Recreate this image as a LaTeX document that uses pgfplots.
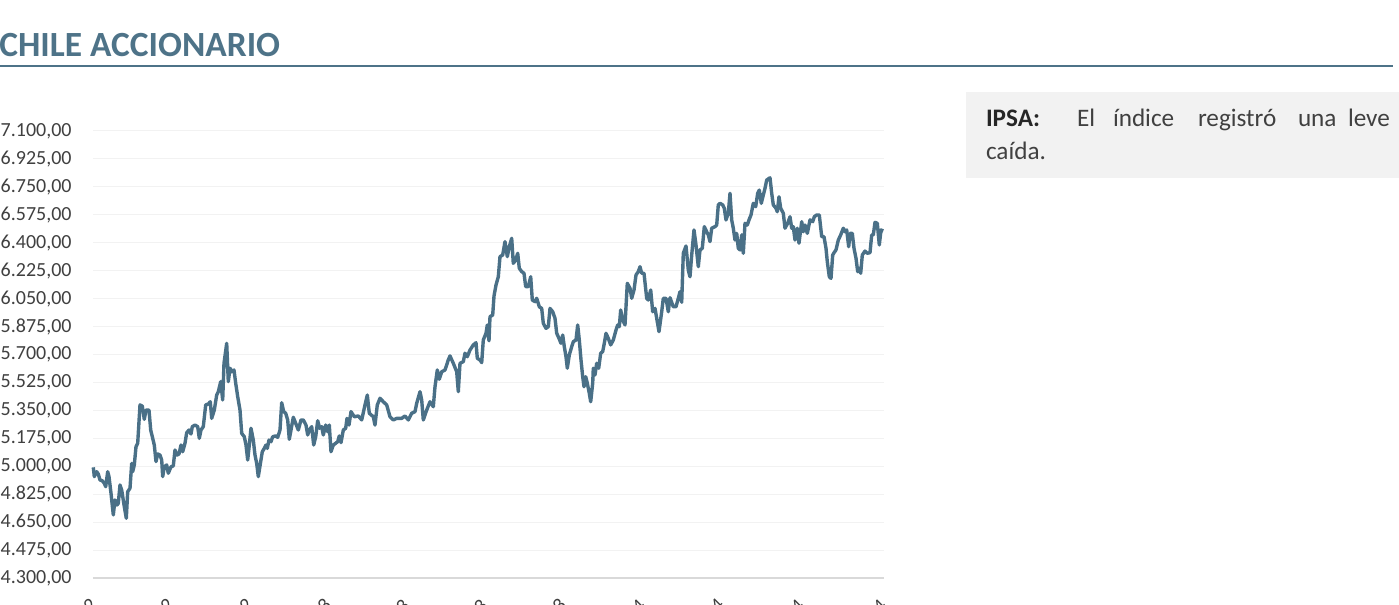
\documentclass[border=0pt]{standalone}
\usepackage{pgfplots}
\pgfplotsset{compat=1.18}
\usepackage{fontspec}
\setmainfont{Carlito}
\definecolor{steel}{HTML}{4E7388}
\definecolor{series}{HTML}{4A7087}
\definecolor{txt}{HTML}{404040}
\definecolor{gridc}{HTML}{F2F2F2}
\definecolor{axisc}{HTML}{D9D9D9}
\definecolor{boxc}{HTML}{F2F2F2}
\begin{document}
\begin{tikzpicture}
\useasboundingbox (0,0) rectangle (699.5pt,302.5pt);
\clip (0,0) rectangle (699.5pt,302.5pt);
% title and rule
\node[anchor=base west, inner sep=0pt, text=steel, font=\fontsize{17.7pt}{20pt}\selectfont\bfseries] at (-0.5pt,274.3pt) {CHILE ACCIONARIO};
\draw[steel, line width=1.1pt] (0,269.5pt) -- (696.5pt,269.5pt);
% comment box
\fill[boxc] (483pt,256.6pt) rectangle (705pt,213.6pt);
\begin{scope}[every node/.style={anchor=base west, inner sep=0pt, text=txt, font=\fontsize{12.6pt}{15pt}\selectfont}]
\node[text=black!85, font=\fontsize{12.6pt}{15pt}\selectfont\bfseries] at (492.8pt,239pt) {IPSA:};
\node at (538.3pt,239pt) {El};
\node at (556.3pt,239pt) {índice};
\node at (598.8pt,239pt) {registró};
\node at (648.8pt,239pt) {una};
\node at (673.8pt,239pt) {leve};
\node at (492.8pt,222.5pt) {caída.};
\end{scope}
\begin{axis}[
  at={(46.5pt,13.5pt)}, anchor=south west,
  scale only axis, width=395.5pt, height=223.5pt,
  xmin=93, xmax=884, ymin=4300, ymax=7100,
  axis x line*=bottom, axis y line*=left,
  y axis line style={draw=none},
  x axis line style={draw=axisc, line width=0.8pt},
  major tick length=0pt,
  ymajorgrids, grid style={draw=gridc, line width=0.5pt},
  ytick={4300,4475,4650,4825,5000,5175,5350,5525,5700,5875,6050,6225,6400,6575,6750,6925,7100},
  yticklabels={4.300{,}00,4.475{,}00,4.650{,}00,4.825{,}00,5.000{,}00,5.175{,}00,5.350{,}00,5.525{,}00,5.700{,}00,5.875{,}00,6.050{,}00,6.225{,}00,6.400{,}00,6.575{,}00,6.750{,}00,6.925{,}00,7.100{,}00},
  yticklabel style={anchor=east, inner sep=0pt, xshift=-10.5pt, text=txt, font=\fontsize{10pt}{12pt}\selectfont},
  xtick={95,172,251,329,407,485,564,643,722,802,884},
  xticklabels={01-09-22,15-11-22,29-12-22,14-03-23,28-05-23,11-08-23,25-10-23,08-01-24,23-03-24,06-06-24,20-08-24},
  xticklabel style={xshift=-3pt, yshift=-9.5pt, rotate=45, anchor=north east, inner sep=0pt, text=txt, font=\fontsize{10pt}{12pt}\selectfont},
  clip=false,
]
\addplot[series, line width=1.7pt, line join=round] table {
x y
93.3 4993
94.3 4935
96.7 4966
98.3 4951
100 4914
102.3 4909
104.3 4893
105.7 4872
107.7 4966
109 4935
111 4831
113.3 4695
115 4789
117 4757
118.3 4768
120 4883
121.7 4851
124.3 4747
126.3 4674
127.7 4841
130 4862
131.7 5018
132.7 4966
134.3 5008
136 5122
137.7 5144
140 5384
142.3 5377
144.3 5294
146 5352
149 5352
150.7 5227
152.7 5175
154.3 5133
156 5029
157.7 5077
160 5070
161.7 5039
162.7 4935
164.3 4997
166.7 5008
168.3 4956
171 4997
173.3 5002
175 5102
177 5070
179 5077
181 5133
182.7 5091
185 5144
186.7 5210
189 5227
191 5202
192.3 5248
195 5258
197.7 5248
199.3 5175
201 5227
203.3 5248
205.7 5384
208.3 5390
210.3 5404
211.7 5300
214.3 5352
216.7 5446
218.3 5467
220.7 5530
222.7 5415
224 5645
226.7 5770
228.3 5530
230 5614
231.7 5592
234 5603
235.7 5520
237.7 5436
240 5352
241.7 5206
244.3 5185
246 5133
247.7 5039
249.3 5133
251 5238
253.3 5164
255 5070
256.7 5018
258.3 4935
260.7 5029
262.3 5091
264.3 5112
266 5133
267.3 5112
269 5164
271 5154
272.7 5185
275.7 5190
277.7 5181
280 5227
281.7 5398
283.7 5342
285.7 5332
287.7 5290
289.3 5169
291 5227
293.3 5307
295.7 5269
298.3 5227
301 5290
303.3 5290
306 5258
307.7 5196
309.3 5227
311.7 5248
313.7 5133
315.7 5185
317.7 5285
319.7 5238
321.7 5248
323.3 5196
325.7 5258
327.7 5216
329.3 5258
331 5091
333.3 5133
335.7 5144
337.7 5154
339.3 5190
341 5148
343.3 5227
345.7 5238
347 5300
349 5258
351 5342
354.3 5310
358.3 5315
361.7 5290
365 5384
367.3 5446
369.3 5332
373.3 5310
375 5258
377.3 5384
380 5426
383.3 5404
386.7 5384
390 5310
393.3 5290
396.7 5300
401.7 5300
405 5315
408.3 5290
411.7 5332
415 5342
416.7 5394
420 5467
421.7 5415
423.3 5290
426.7 5352
430 5404
433.3 5373
435 5498
437.3 5603
439.3 5545
441.7 5592
445 5603
448.3 5666
450 5691
453.3 5645
456.7 5592
458.3 5467
460 5645
463.3 5655
465 5708
467.3 5686
470 5728
473.3 5760
476 5774
477.3 5676
480 5666
481.7 5649
483.3 5791
486 5833
487.3 5885
489 5786
490 5937
492.7 5947
494 6066
496 6135
498.3 6187
500 6313
502.7 6323
505 6407
507.3 6313
509.3 6375
511.7 6428
513.3 6271
515.7 6292
517.7 6334
519.3 6240
521.7 6219
524 6209
525.7 6125
528.3 6125
530.7 6187
532.3 6041
535 6031
536.7 6052
539.3 5999
541.7 5989
543.3 5895
546 5864
548.3 5874
550 5989
552.7 5968
555 5927
556.7 5833
559 5801
561 5770
562.7 5822
564.3 5749
566 5686
567.3 5614
569.3 5697
571.7 5749
573.3 5780
576 5791
577.7 5885
579.3 5791
581 5666
582.7 5561
584 5498
585.7 5561
587.3 5520
589.3 5457
590.7 5404
592.7 5520
593.3 5614
595 5572
596.7 5645
598.7 5614
600.7 5708
602.7 5718
604.3 5770
606 5833
608.3 5801
610.7 5760
613.3 5791
616 5853
617.7 5885
619.3 5874
620.7 5979
622.7 5916
625 5885
627.3 6146
630 6115
631.7 6052
634 6104
636 6198
638.3 6219
640 6250
641.7 6209
644 6209
646.7 6052
648.3 6041
650.7 6104
652.7 5968
655 5989
656.7 5927
659 5843
661.7 5968
663.3 6052
666 6052
668.3 5968
670 6056
673.3 5999
676 5999
678.3 6052
680 6093
681.7 6027
683.3 6334
686 6380
688.3 6229
690 6187
691.7 6323
694 6480
696 6386
698.3 6250
700 6355
702.3 6365
704.3 6501
706.7 6469
708.3 6449
710 6407
711.7 6491
715 6501
716.7 6511
718.3 6637
720 6647
722.7 6637
724.3 6616
726 6543
728.3 6585
730 6710
731.7 6543
733.3 6491
735 6417
736.7 6459
738.3 6365
740 6355
741.7 6449
743.3 6334
745 6522
747.3 6511
749 6543
751 6574
753.3 6647
755.7 6626
757.7 6710
759.3 6730
761.3 6647
763.3 6699
765 6741
766.7 6793
770 6807
771.7 6710
773.3 6637
776 6616
777.3 6594
779 6688
780.7 6616
783.3 6585
785 6491
787.7 6522
790 6563
791.7 6491
793.3 6501
795 6417
797.3 6491
799 6397
801.7 6532
803.3 6469
805 6511
807.3 6459
810 6543
812.7 6532
814.3 6563
816.7 6574
819.3 6574
821.7 6438
824 6438
826 6365
827.3 6281
829.3 6187
831 6177
832.7 6323
834.3 6340
836 6355
838.3 6417
840.7 6449
843.3 6491
845 6469
846.7 6480
848.7 6375
850 6459
852.3 6459
854 6365
856 6303
857.7 6219
859 6240
860.7 6209
862.3 6323
865 6348
867.3 6334
870 6338
871.7 6449
873.3 6449
875 6528
877.3 6522
879.3 6386
881 6480
883.3 6474
};
\end{axis}
\end{tikzpicture}
\end{document}
